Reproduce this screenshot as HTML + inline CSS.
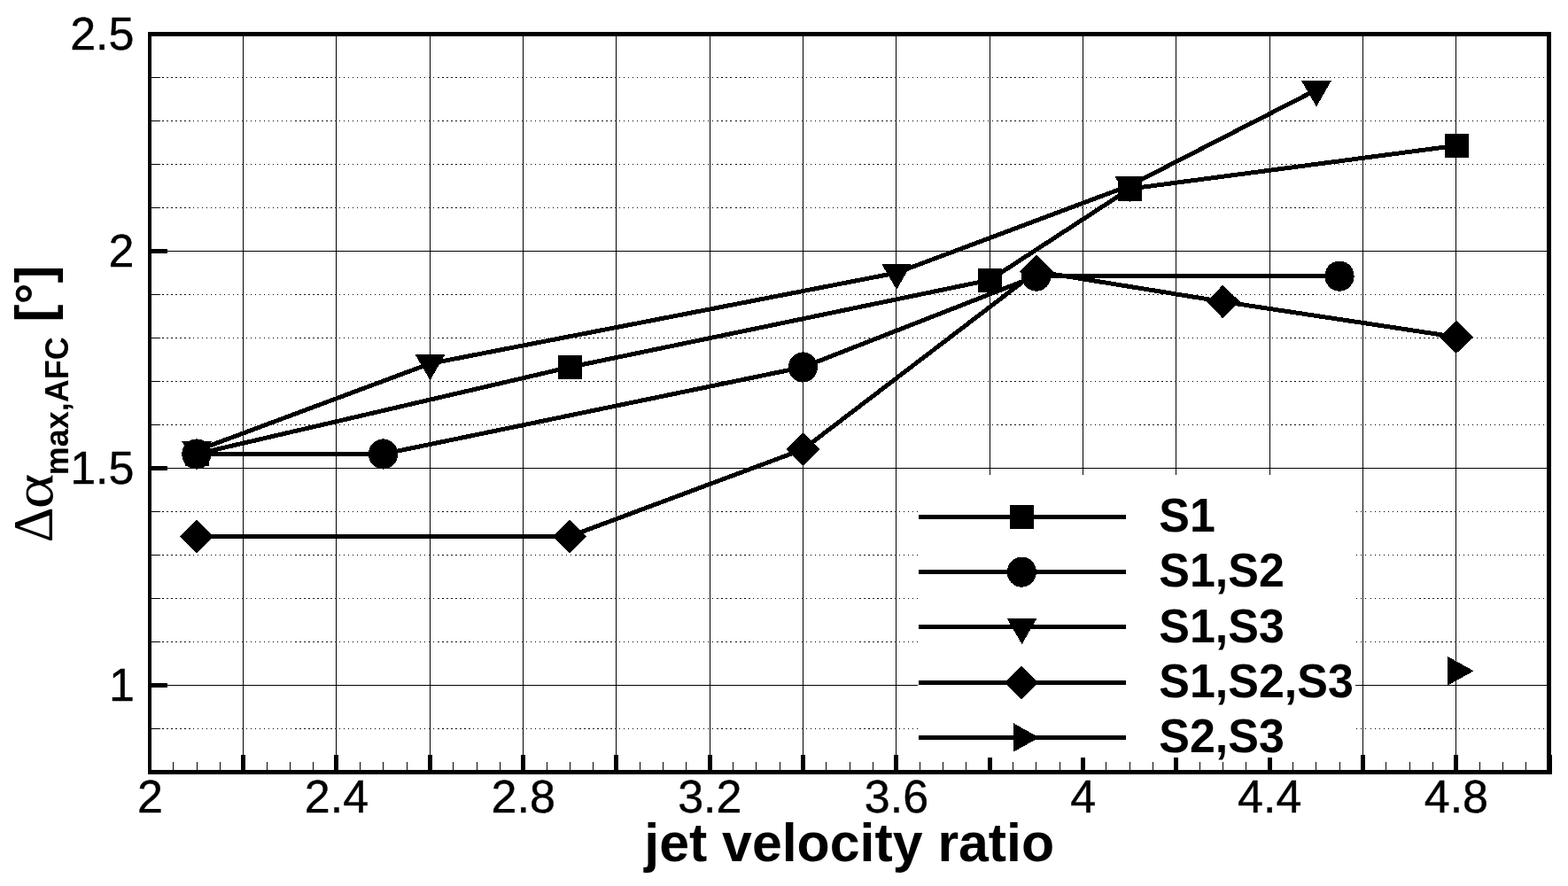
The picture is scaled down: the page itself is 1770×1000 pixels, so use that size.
<!DOCTYPE html>
<html lang="en">
<head>
<meta charset="utf-8">
<title>jet velocity ratio chart</title>
<style>
html,body{margin:0;padding:0;background:#fff;}
body{width:1770px;height:1000px;overflow:hidden;}
svg{display:block;}
.t{font-family:"Liberation Sans",sans-serif;fill:#000;stroke:#000;stroke-width:0.4px;}
.b{font-family:"Liberation Sans",sans-serif;font-weight:bold;fill:#000;}
.s{font-family:"Liberation Serif","DejaVu Serif",serif;fill:#000;}
.ce{shape-rendering:crispEdges;}
</style>
</head>
<body>
<svg width="1770" height="1000" viewBox="0 0 1770 1000">
<rect x="0" y="0" width="1770" height="1000" fill="#fff"/>
<g class="ce" fill="#000">
<rect x="274" y="40" width="1" height="830"/>
<rect x="379" y="40" width="1" height="830"/>
<rect x="485" y="40" width="1" height="830"/>
<rect x="590" y="40" width="1" height="830"/>
<rect x="695" y="40" width="1" height="830"/>
<rect x="801" y="40" width="1" height="830"/>
<rect x="906" y="40" width="1" height="830"/>
<rect x="1011" y="40" width="1" height="830"/>
<rect x="1117" y="40" width="1" height="830"/>
<rect x="1222" y="40" width="1" height="830"/>
<rect x="1327" y="40" width="1" height="830"/>
<rect x="1433" y="40" width="1" height="830"/>
<rect x="1538" y="40" width="1" height="830"/>
<rect x="1643" y="40" width="1" height="830"/>
<rect x="170" y="283" width="1577" height="1"/>
<rect x="170" y="528" width="1577" height="1"/>
<rect x="170" y="773" width="1577" height="1"/>
</g>
<defs><path id="dl" d="M183 .5h2M188 .5h2M193 .5h2M198 .5h2M203 .5h2M208 .5h2M213 .5h2M218 .5h1M223 .5h1M228 .5h1M233 .5h1M238 .5h1M243 .5h1M248 .5h1M253 .5h1M258 .5h1M263 .5h1M268 .5h1M273 .5h1M278 .5h1M283 .5h1M288 .5h1M293 .5h1M298 .5h1M303 .5h1M308 .5h1M313 .5h1M318 .5h1M323 .5h1M328 .5h1M333 .5h2M338 .5h2M343 .5h2M348 .5h2M353 .5h2M358 .5h2M363 .5h2M368 .5h2M373 .5h2M378 .5h1M383 .5h1M388 .5h1M393 .5h1M398 .5h1M403 .5h1M408 .5h1M413 .5h1M418 .5h1M423 .5h1M428 .5h1M433 .5h1M438 .5h1M443 .5h1M448 .5h1M453 .5h1M458 .5h1M463 .5h1M468 .5h1M474 .5h1M479 .5h1M484 .5h1M489 .5h1M494 .5h2M499 .5h2M504 .5h2M509 .5h2M514 .5h2M519 .5h2M524 .5h2M529 .5h2M534 .5h1M539 .5h1M544 .5h1M549 .5h1M554 .5h1M559 .5h1M564 .5h1M569 .5h1M574 .5h1M579 .5h1M584 .5h1M589 .5h1M594 .5h1M599 .5h1M604 .5h1M609 .5h1M614 .5h1M619 .5h1M624 .5h1M629 .5h1M634 .5h1M639 .5h1M644 .5h1M649 .5h2M654 .5h2M659 .5h2M664 .5h2M669 .5h2M674 .5h2M679 .5h2M684 .5h2M689 .5h2M694 .5h1M699 .5h1M704 .5h1M709 .5h1M714 .5h1M719 .5h1M724 .5h1M729 .5h1M734 .5h1M739 .5h1M744 .5h1M749 .5h1M754 .5h1M759 .5h1M764 .5h1M769 .5h1M774 .5h1M779 .5h1M784 .5h1M789 .5h1M794 .5h1M799 .5h1M804 .5h1M809 .5h2M814 .5h2M819 .5h2M824 .5h2M830 .5h2M835 .5h2M840 .5h2M845 .5h2M850 .5h1M855 .5h1M860 .5h1M865 .5h1M870 .5h1M875 .5h1M880 .5h1M885 .5h1M890 .5h1M895 .5h1M900 .5h1M905 .5h1M910 .5h1M915 .5h1M920 .5h1M925 .5h1M930 .5h1M935 .5h1M940 .5h1M945 .5h1M950 .5h1M955 .5h1M960 .5h1M965 .5h1M970 .5h2M975 .5h2M980 .5h2M985 .5h2M990 .5h2M995 .5h2M1000 .5h2M1005 .5h2M1010 .5h1M1015 .5h1M1020 .5h1M1025 .5h1M1030 .5h1M1035 .5h1M1040 .5h1M1045 .5h1M1050 .5h1M1055 .5h1M1060 .5h1M1065 .5h1M1070 .5h1M1075 .5h1M1080 .5h1M1085 .5h1M1090 .5h1M1095 .5h1M1100 .5h1M1105 .5h1M1110 .5h1M1115 .5h1M1120 .5h1M1125 .5h2M1130 .5h2M1135 .5h2M1140 .5h2M1145 .5h2M1150 .5h2M1155 .5h2M1160 .5h2M1165 .5h2M1170 .5h1M1175 .5h1M1180 .5h1M1186 .5h1M1191 .5h1M1196 .5h1M1201 .5h1M1206 .5h1M1211 .5h1M1216 .5h1M1221 .5h1M1226 .5h1M1231 .5h1M1236 .5h1M1241 .5h1M1246 .5h1M1251 .5h1M1256 .5h1M1261 .5h1M1266 .5h1M1271 .5h1M1276 .5h1M1281 .5h1M1286 .5h2M1291 .5h2M1296 .5h2M1301 .5h2M1306 .5h2M1311 .5h2M1316 .5h2M1321 .5h2M1326 .5h1M1331 .5h1M1336 .5h1M1341 .5h1M1346 .5h1M1351 .5h1M1356 .5h1M1361 .5h1M1366 .5h1M1371 .5h1M1376 .5h1M1381 .5h1M1386 .5h1M1391 .5h1M1396 .5h1M1401 .5h1M1406 .5h1M1411 .5h1M1416 .5h1M1421 .5h1M1426 .5h1M1431 .5h1M1436 .5h1M1441 .5h1M1446 .5h2M1451 .5h2M1456 .5h2M1461 .5h2M1466 .5h2M1471 .5h2M1476 .5h2M1481 .5h2M1486 .5h1M1491 .5h1M1496 .5h1M1501 .5h1M1506 .5h1M1511 .5h1M1516 .5h1M1521 .5h1M1526 .5h1M1531 .5h1M1536 .5h1M1541 .5h1M1547 .5h1M1552 .5h1M1557 .5h1M1562 .5h1M1567 .5h1M1572 .5h1M1577 .5h1M1582 .5h1M1587 .5h1M1592 .5h1M1597 .5h1M1602 .5h2M1607 .5h2M1612 .5h2M1617 .5h2M1622 .5h2M1627 .5h2M1632 .5h2M1637 .5h2M1642 .5h2M1647 .5h1M1652 .5h1M1657 .5h1M1662 .5h1M1667 .5h1M1672 .5h1M1677 .5h1M1682 .5h1M1687 .5h1M1692 .5h1M1697 .5h1M1702 .5h1M1707 .5h1M1712 .5h1M1717 .5h1M1722 .5h1M1727 .5h1M1732 .5h1M1737 .5h1M1742 .5h1" stroke="#000" stroke-width="1" fill="none" shape-rendering="crispEdges"/></defs>
<use href="#dl" y="822"/>
<use href="#dl" y="724"/>
<use href="#dl" y="675"/>
<use href="#dl" y="626"/>
<use href="#dl" y="577"/>
<use href="#dl" y="479"/>
<use href="#dl" y="430"/>
<use href="#dl" y="381"/>
<use href="#dl" y="332"/>
<use href="#dl" y="234"/>
<use href="#dl" y="185"/>
<use href="#dl" y="136"/>
<use href="#dl" y="87"/>
<g class="ce" fill="#000">
<rect x="195" y="860" width="1" height="10"/>
<rect x="222" y="860" width="1" height="10"/>
<rect x="248" y="860" width="1" height="10"/>
<rect x="272" y="852" width="5" height="18"/>
<rect x="301" y="860" width="1" height="10"/>
<rect x="327" y="860" width="1" height="10"/>
<rect x="353" y="860" width="1" height="10"/>
<rect x="377" y="852" width="5" height="18"/>
<rect x="406" y="860" width="1" height="10"/>
<rect x="432" y="860" width="1" height="10"/>
<rect x="459" y="860" width="1" height="10"/>
<rect x="483" y="852" width="5" height="18"/>
<rect x="511" y="860" width="1" height="10"/>
<rect x="538" y="860" width="1" height="10"/>
<rect x="564" y="860" width="1" height="10"/>
<rect x="588" y="852" width="5" height="18"/>
<rect x="617" y="860" width="1" height="10"/>
<rect x="643" y="860" width="1" height="10"/>
<rect x="669" y="860" width="1" height="10"/>
<rect x="693" y="852" width="5" height="18"/>
<rect x="722" y="860" width="1" height="10"/>
<rect x="748" y="860" width="1" height="10"/>
<rect x="774" y="860" width="1" height="10"/>
<rect x="799" y="852" width="5" height="18"/>
<rect x="827" y="860" width="1" height="10"/>
<rect x="853" y="860" width="1" height="10"/>
<rect x="880" y="860" width="1" height="10"/>
<rect x="904" y="852" width="5" height="18"/>
<rect x="932" y="860" width="1" height="10"/>
<rect x="959" y="860" width="1" height="10"/>
<rect x="985" y="860" width="1" height="10"/>
<rect x="1009" y="852" width="5" height="18"/>
<rect x="1038" y="860" width="1" height="10"/>
<rect x="1064" y="860" width="1" height="10"/>
<rect x="1090" y="860" width="1" height="10"/>
<rect x="1115" y="852" width="5" height="18"/>
<rect x="1143" y="860" width="1" height="10"/>
<rect x="1169" y="860" width="1" height="10"/>
<rect x="1196" y="860" width="1" height="10"/>
<rect x="1220" y="852" width="5" height="18"/>
<rect x="1248" y="860" width="1" height="10"/>
<rect x="1275" y="860" width="1" height="10"/>
<rect x="1301" y="860" width="1" height="10"/>
<rect x="1325" y="852" width="5" height="18"/>
<rect x="1354" y="860" width="1" height="10"/>
<rect x="1380" y="860" width="1" height="10"/>
<rect x="1406" y="860" width="1" height="10"/>
<rect x="1431" y="852" width="5" height="18"/>
<rect x="1459" y="860" width="1" height="10"/>
<rect x="1485" y="860" width="1" height="10"/>
<rect x="1512" y="860" width="1" height="10"/>
<rect x="1536" y="852" width="5" height="18"/>
<rect x="1564" y="860" width="1" height="10"/>
<rect x="1591" y="860" width="1" height="10"/>
<rect x="1617" y="860" width="1" height="10"/>
<rect x="1641" y="852" width="5" height="18"/>
<rect x="1670" y="860" width="1" height="10"/>
<rect x="1696" y="860" width="1" height="10"/>
<rect x="1722" y="860" width="1" height="10"/>
<rect x="1747" y="852" width="5" height="22"/>
<rect x="170" y="871" width="11" height="1"/>
<rect x="170" y="822" width="11" height="1"/>
<rect x="170" y="771" width="19" height="5"/>
<rect x="170" y="724" width="11" height="1"/>
<rect x="170" y="675" width="11" height="1"/>
<rect x="170" y="626" width="11" height="1"/>
<rect x="170" y="577" width="11" height="1"/>
<rect x="170" y="526" width="19" height="5"/>
<rect x="170" y="479" width="11" height="1"/>
<rect x="170" y="430" width="11" height="1"/>
<rect x="170" y="381" width="11" height="1"/>
<rect x="170" y="332" width="11" height="1"/>
<rect x="170" y="281" width="19" height="5"/>
<rect x="170" y="234" width="11" height="1"/>
<rect x="170" y="185" width="11" height="1"/>
<rect x="170" y="136" width="11" height="1"/>
<rect x="170" y="87" width="11" height="1"/>
<rect x="170" y="36" width="19" height="5"/>
<rect x="167" y="36" width="4" height="838"/>
<rect x="1746" y="36" width="5" height="838"/>
<rect x="167" y="36" width="1584" height="5"/>
<rect x="167" y="869" width="1584" height="5"/>
</g>
<rect class="ce" x="1036" y="536" width="494" height="319" fill="#fff"/>
<g class="ce" stroke="#000" stroke-width="5" fill="none" stroke-linejoin="miter">
<polyline points="222.1,512.4 643.3,414.4 1117.3,316.0 1275.3,213.1 1643.9,164.4"/>
<polyline points="222.1,512.4 432.7,512.4 906.6,414.4 1169.9,311.5 1512.2,311.5"/>
<polyline points="222.1,508.5 485.4,410.4 1012.0,308.0 1275.3,209.4 1485.9,101.4"/>
<polyline points="222.1,605.3 643.3,605.3 906.6,507.1 1169.9,306.4 1380.6,340.5 1643.9,380.4"/>
</g>
<g class="ce" fill="#000">
<rect x="209" y="499" width="27" height="27"/>
<rect x="630" y="401" width="27" height="27"/>
<rect x="1104" y="303" width="27" height="27"/>
<rect x="1262" y="200" width="27" height="27"/>
<rect x="1631" y="151" width="27" height="27"/>
<ellipse cx="221.9" cy="512.5" rx="16.6" ry="17.1"/>
<ellipse cx="432.5" cy="512.5" rx="16.6" ry="17.1"/>
<ellipse cx="906.4" cy="414.5" rx="16.6" ry="17.1"/>
<ellipse cx="1169.7" cy="311.6" rx="16.6" ry="17.1"/>
<ellipse cx="1512.0" cy="311.6" rx="16.6" ry="17.1"/>
<polygon points="205.3,498.3 239.0,498.3 222.2,527.5"/>
<polygon points="468.6,400.2 502.3,400.2 485.5,429.4"/>
<polygon points="995.2,297.8 1028.9,297.8 1012.1,327.0"/>
<polygon points="1258.5,199.2 1292.2,199.2 1275.4,228.4"/>
<polygon points="1469.1,91.2 1502.8,91.2 1486.0,120.4"/>
<polygon points="203.1,605.3 221.9,586.4 241.1,605.3 221.9,624.2"/>
<polygon points="624.3,605.3 643.1,586.4 662.3,605.3 643.1,624.2"/>
<polygon points="887.6,507.1 906.4,488.2 925.6,507.1 906.4,526.0"/>
<polygon points="1150.9,306.4 1169.7,287.5 1188.9,306.4 1169.7,325.3"/>
<polygon points="1361.6,340.5 1380.4,321.6 1399.6,340.5 1380.4,359.4"/>
<polygon points="1624.9,380.4 1643.7,361.5 1662.9,380.4 1643.7,399.3"/>
<polygon points="1634.4,741.0 1634.4,773.4 1663.6,757.3"/>
</g>
<g class="ce" fill="#000">
<rect x="1037" y="581" width="234" height="5"/>
<rect x="1037" y="643" width="234" height="5"/>
<rect x="1037" y="705" width="234" height="5"/>
<rect x="1037" y="768" width="234" height="5"/>
<rect x="1037" y="830" width="234" height="5"/>
</g>
<g class="ce" fill="#000">
<rect x="1140" y="570" width="27" height="27"/>
<ellipse cx="1153.3" cy="645.6" rx="16.6" ry="17.1"/>
<polygon points="1136.7,698.0 1170.4,698.0 1153.6,727.2"/>
<polygon points="1134.5,770.5 1153.3,751.6 1172.5,770.5 1153.3,789.4"/>
<polygon points="1144.0,816.2 1144.0,848.6 1173.2,832.5"/>
</g>
<text class="b" transform="translate(1308.2,599.8) scale(1,1.045)" font-size="52">S1</text>
<text class="b" transform="translate(1308.2,661.8) scale(1,1.045)" font-size="52">S1,S2</text>
<text class="b" transform="translate(1308.2,724.5) scale(1,1.045)" font-size="52">S1,S3</text>
<text class="b" transform="translate(1308.2,786.8) scale(1,1.045)" font-size="52">S1,S2,S3</text>
<text class="b" transform="translate(1308.2,848.8) scale(1,1.045)" font-size="52">S2,S3</text>
<text class="t" x="169.4" y="917" font-size="52" text-anchor="middle">2</text>
<text class="t" x="380.0" y="917" font-size="52" text-anchor="middle">2.4</text>
<text class="t" x="590.7" y="917" font-size="52" text-anchor="middle">2.8</text>
<text class="t" x="801.3" y="917" font-size="52" text-anchor="middle">3.2</text>
<text class="t" x="1012.0" y="917" font-size="52" text-anchor="middle">3.6</text>
<text class="t" x="1222.6" y="917" font-size="52" text-anchor="middle">4</text>
<text class="t" x="1433.2" y="917" font-size="52" text-anchor="middle">4.4</text>
<text class="t" x="1643.9" y="917" font-size="52" text-anchor="middle">4.8</text>
<text class="t" x="151.5" y="55.9" font-size="52" text-anchor="end">2.5</text>
<text class="t" x="151.5" y="300.9" font-size="52" text-anchor="end">2</text>
<text class="t" x="151.5" y="545.9" font-size="52" text-anchor="end">1.5</text>
<text class="t" x="151.8" y="790.9" font-size="52" text-anchor="end">1</text>
<text class="b" x="958.7" y="971.5" font-size="60.8" text-anchor="middle">jet velocity ratio</text>
<g transform="translate(58.7,611) rotate(-90)">
<text class="s" transform="translate(-1.3,0) scale(0.967,1)" x="0" y="0" font-size="64">Δ</text>
<text class="s" transform="translate(36.7,0.55) scale(1.26,1.07)" x="0" y="0" font-size="60">α</text>
<text class="b" x="74.7" y="18.3" font-size="36">max,AFC</text>
<text class="b" x="247.5" y="0" font-size="60">[°]</text>
</g>
</svg>
</body>
</html>
